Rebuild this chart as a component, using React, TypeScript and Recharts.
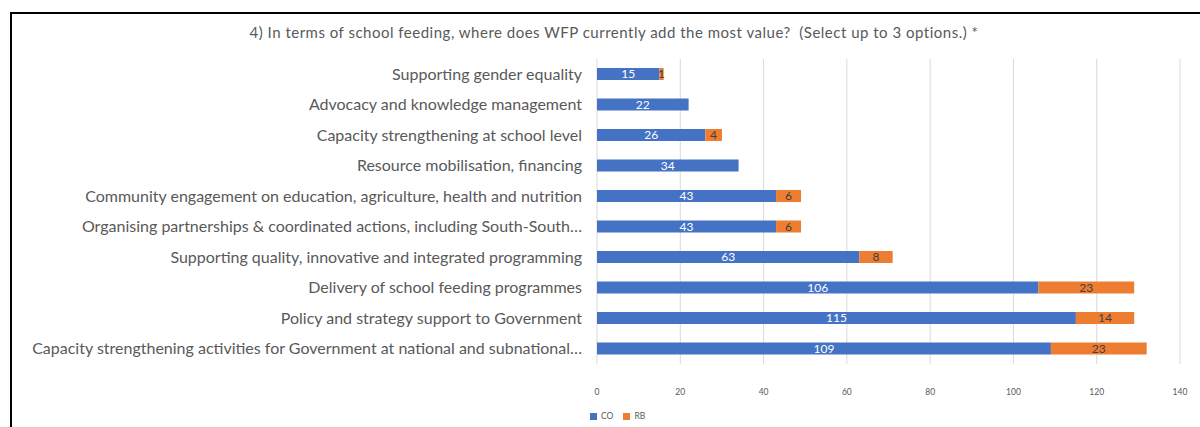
import { Bar, BarChart, CartesianGrid, LabelList, Legend, XAxis, YAxis } from "recharts"

const categories = [
  "Supporting gender equality",
  "Advocacy and knowledge management",
  "Capacity strengthening at school level",
  "Resource mobilisation, financing",
  "Community engagement on education, agriculture, health and nutrition",
  "Organising partnerships & coordinated actions, including South-South…",
  "Supporting quality, innovative and integrated programming",
  "Delivery of school feeding programmes",
  "Policy and strategy support to Government",
  "Capacity strengthening activities for Government at national and subnational…",
]

const coValues = [15, 22, 26, 34, 43, 43, 63, 106, 115, 109]
const rbValues = [1, 0, 4, 0, 6, 6, 8, 23, 14, 23]

const xTicks = [0, 20, 40, 60, 80, 100, 120, 140]

const title =
  "4) In terms of school feeding, where does WFP currently add the most value?  (Select up to 3 options.) *"

const data = categories.map((name, i) => ({
  name,
  CO: coValues[i],
  RB: rbValues[i],
}))

const FONT = "Lato, 'Open Sans', sans-serif"

const hideZero = (v: any) => (v ? v : "")

export default function App() {
  return (
    <div style={{ position: "absolute", left: 0, top: 0, width: 1200, height: 427, overflow: "hidden", background: "#fff", fontFamily: FONT }}>
      <div
        style={{
          position: "absolute",
          left: 10,
          top: 12,
          width: 1220,
          height: 440,
          borderLeft: "2px solid #000",
          borderTop: "2px solid #000",
        }}
      />
      <div
        style={{
          position: "absolute",
          left: 0,
          top: 23,
          width: 1228,
          textAlign: "center",
          fontSize: 15,
          letterSpacing: 0.5,
          color: "#595959",
          whiteSpace: "pre",
        }}
      >
        {title}
      </div>
      <div style={{ position: "absolute", left: 0, top: 0 }}>
        <BarChart
          width={1200}
          height={427}
          data={data}
          layout="vertical"
          barSize={12}
          margin={{ top: 59, right: 20, left: 0, bottom: 23 }}
        >
          <CartesianGrid horizontal={false} stroke="#d9d9d9" />
          <XAxis
            type="number"
            domain={[0, 140]}
            ticks={xTicks}
            axisLine={false}
            tickLine={false}
            tickMargin={19}
            height={30}
            tick={{ fontSize: 8.5, fill: "#595959", fontFamily: FONT }}
          />
          <YAxis
            type="category"
            dataKey="name"
            width={597}
            axisLine={false}
            tickLine={false}
            tickMargin={9}
            interval={0}
            tick={{ fontSize: 16, fill: "#595959", fontFamily: FONT }}
          />
          <Legend
            align="left"
            verticalAlign="bottom"
            iconType="square"
            iconSize={7}
            wrapperStyle={{ left: 590, bottom: 6, width: "auto", fontSize: 8.5, color: "#595959", fontFamily: FONT }}
            formatter={(v: any) => <span style={{ color: "#595959" }}>{v}</span>}
          />
          <Bar dataKey="CO" stackId="a" fill="#4472C4" isAnimationActive={false}>
            <LabelList dataKey="CO" position="center" fill="#ffffff" fontSize={12} fontFamily={FONT} />
          </Bar>
          <Bar dataKey="RB" stackId="a" fill="#ED7D31" isAnimationActive={false}>
            <LabelList dataKey="RB" position="center" fill="#404040" fontSize={12} fontFamily={FONT} formatter={hideZero} />
          </Bar>
        </BarChart>
      </div>
    </div>
  )
}
